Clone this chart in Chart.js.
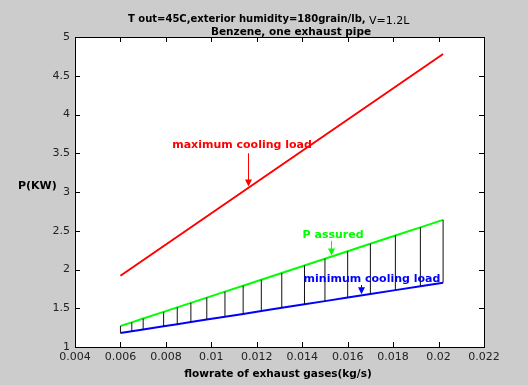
<!DOCTYPE html>
<html>
<head>
<meta charset="utf-8">
<script src="https://cdn.jsdelivr.net/npm/chart.js@4"></script>
<style>
  html, body { margin: 0; padding: 0; background: #cccccc; }
  canvas { display: block; }
</style>
</head>
<body>
<canvas id="chart" width="528" height="385"></canvas>
<script>
// tick values
const xTicks = [0.004, 0.006, 0.008, 0.01, 0.012, 0.014, 0.016, 0.018, 0.02, 0.022];
const yTicks = [1, 1.5, 2, 2.5, 3, 3.5, 4, 4.5, 5];

// maximum cooling load (red)
const maxX = [0.006, 0.0202];
const maxY = [1.92, 4.78];

// flowrates where the hatch lines are drawn
const hatchX = [0.006, 0.0065, 0.007, 0.0079, 0.0085, 0.0091, 0.0098, 0.0106, 0.0114,
  0.0122, 0.0131, 0.0141, 0.015, 0.016, 0.017, 0.0181, 0.0192, 0.0202];
// P assured (green)
const assuredY = [1.27, 1.318, 1.367, 1.453, 1.511, 1.569, 1.637, 1.714, 1.791,
  1.868, 1.955, 2.052, 2.139, 2.235, 2.332, 2.438, 2.544, 2.64];
// minimum cooling load (blue)
const minY = [1.18, 1.203, 1.226, 1.267, 1.295, 1.322, 1.354, 1.391, 1.427,
  1.464, 1.505, 1.551, 1.592, 1.638, 1.684, 1.734, 1.785, 1.83];

// annotation labels: text, label position, arrow start and tip
const notes = [
  { text: "maximum cooling load", color: "#ff0000", x: 0.01135, y: 3.61, ax: 0.01161, ay1: 3.50, ay2: 3.07 },
  { text: "P assured", color: "#00ff00", x: 0.01536, y: 2.445, ax: 0.01527, ay1: 2.37, ay2: 2.18 },
  { text: "minimum cooling load", color: "#0000ff", x: 0.01707, y: 1.877, ax: 0.01659, ay1: 1.80, ay2: 1.68 },
];

const pts = (xs, ys) => xs.map((x, i) => ({ x: x, y: ys[i] }));

// vertical hatch segments between the two lower curves
const hatch = [];
hatchX.forEach((x, i) => {
  hatch.push({ x: x, y: minY[i] });
  hatch.push({ x: x, y: assuredY[i] });
  hatch.push({ x: x, y: null });
});

const FONT = "'DejaVu Sans', Arial, sans-serif";

const deco = {
  id: "deco",
  beforeDraw(chart) {
    const { ctx, chartArea: a } = chart;
    ctx.save();
    ctx.fillStyle = "#cccccc";
    ctx.fillRect(0, 0, chart.width, chart.height);
    ctx.fillStyle = "#ffffff";
    ctx.fillRect(a.left, a.top, a.right - a.left, a.bottom - a.top);
    ctx.restore();
  },
  afterDraw(chart) {
    const { ctx, chartArea: a, scales } = chart;
    const sx = scales.x, sy = scales.y;
    ctx.save();
    // box
    ctx.strokeStyle = "#000";
    ctx.lineWidth = 1;
    ctx.strokeRect(Math.round(a.left) + 0.5, Math.round(a.top) + 0.5,
      Math.round(a.right - a.left), Math.round(a.bottom - a.top));
    // inside ticks on all sides
    ctx.beginPath();
    xTicks.forEach(v => {
      const px = Math.round(sx.getPixelForValue(v)) + 0.5;
      ctx.moveTo(px, a.bottom); ctx.lineTo(px, a.bottom - 5);
      ctx.moveTo(px, a.top); ctx.lineTo(px, a.top + 5);
    });
    yTicks.forEach(v => {
      const py = Math.round(sy.getPixelForValue(v)) + 0.5;
      ctx.moveTo(a.left, py); ctx.lineTo(a.left + 5, py);
      ctx.moveTo(a.right, py); ctx.lineTo(a.right - 5, py);
    });
    ctx.stroke();

    // titles
    ctx.fillStyle = "#000";
    ctx.textBaseline = "alphabetic";
    ctx.textAlign = "left";
    ctx.font = "bold 10px " + FONT;
    const t1 = "T out=45C,exterior humidity=180grain/lb, ";
    ctx.fillText(t1, 128, 22);
    const w1 = ctx.measureText(t1).width;
    ctx.font = "11px " + FONT;
    ctx.fillText("V=1.2L", 128 + w1, 24);
    ctx.font = "bold 10.5px " + FONT;
    ctx.textAlign = "center";
    ctx.fillText("Benzene, one exhaust pipe", 291, 35);
    ctx.fillText("flowrate of exhaust gases(kg/s)", 278, 377);
    ctx.font = "bold 11px " + FONT;
    ctx.textAlign = "left";
    ctx.fillText("P(KW)", 18, 189);

    // annotations with arrows
    notes.forEach(n => {
      ctx.fillStyle = n.color;
      ctx.strokeStyle = n.color;
      ctx.font = "bold 11px " + FONT;
      ctx.textAlign = "center";
      ctx.textBaseline = "middle";
      ctx.fillText(n.text, sx.getPixelForValue(n.x), sy.getPixelForValue(n.y));
      const ax = Math.round(sx.getPixelForValue(n.ax)) + 0.5;
      const y1 = sy.getPixelForValue(n.ay1);
      const y2 = sy.getPixelForValue(n.ay2);
      ctx.beginPath();
      ctx.moveTo(ax, y1);
      ctx.lineTo(ax, y2 - 6);
      ctx.stroke();
      ctx.beginPath();
      ctx.moveTo(ax - 3.5, y2 - 7);
      ctx.lineTo(ax + 3.5, y2 - 7);
      ctx.lineTo(ax, y2);
      ctx.closePath();
      ctx.fill();
    });
    ctx.restore();
  },
};

new Chart(document.getElementById("chart"), {
  type: "scatter",
  data: {
    datasets: [
      {
        data: hatch,
        showLine: true,
        spanGaps: false,
        borderColor: "#111111",
        borderWidth: 1,
        pointRadius: 0,
      },
      {
        data: pts(maxX, maxY),
        showLine: true,
        borderColor: "#ff0000",
        borderWidth: 2,
        pointRadius: 0,
      },
      {
        data: pts(hatchX, assuredY),
        showLine: true,
        borderColor: "#00ff00",
        borderWidth: 2,
        pointRadius: 0,
      },
      {
        data: pts(hatchX, minY),
        showLine: true,
        borderColor: "#0000ff",
        borderWidth: 2,
        pointRadius: 0,
      },
    ],
  },
  options: {
    responsive: false,
    animation: false,
    devicePixelRatio: 1,
    layout: { padding: { top: 37, right: 44, left: 0, bottom: 0 } },
    plugins: { legend: { display: false }, tooltip: { enabled: false } },
    scales: {
      x: {
        type: "linear",
        min: 0.004,
        max: 0.022,
        afterBuildTicks: s => { s.ticks = xTicks.map(v => ({ value: v })); },
        afterFit: s => { s.height = 38; },
        grid: { drawOnChartArea: false, drawTicks: false },
        border: { display: false },
        ticks: {
          padding: 4,
          color: "#222",
          font: { family: FONT, size: 11 },
          maxRotation: 0,
          autoSkip: false,
          callback: v => String(+v.toFixed(4)),
        },
      },
      y: {
        type: "linear",
        min: 1,
        max: 5,
        afterBuildTicks: s => { s.ticks = yTicks.map(v => ({ value: v })); },
        afterFit: s => { s.width = 75; },
        grid: { drawOnChartArea: false, drawTicks: false },
        border: { display: false },
        ticks: {
          padding: 5,
          color: "#222",
          font: { family: FONT, size: 11 },
          autoSkip: false,
          callback: v => String(v),
        },
      },
    },
  },
  plugins: [deco],
});
</script>
</body>
</html>
